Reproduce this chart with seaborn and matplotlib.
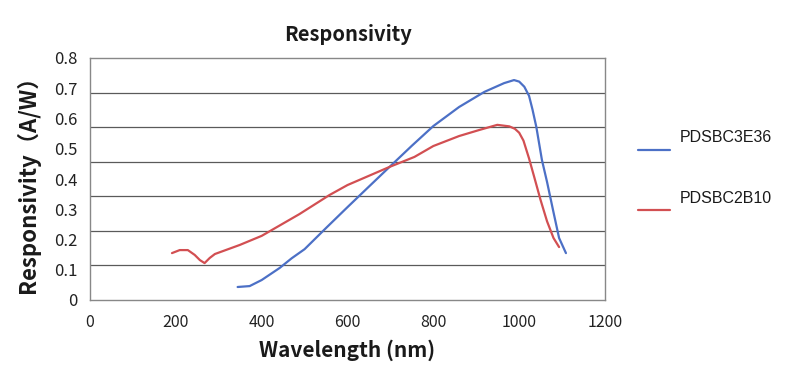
import numpy as np
import pandas as pd
import matplotlib
matplotlib.use("Agg")
import matplotlib.pyplot as plt
import seaborn as sns

# values
blue_nm = [344, 372, 400, 442, 470, 500, 550, 600, 650, 698, 750, 800, 860, 919, 965, 988,
           1000, 1012, 1023, 1031, 1040, 1053, 1065, 1080, 1093, 1109]
blue_val = [0.043, 0.046, 0.066, 0.106, 0.138, 0.168, 0.238, 0.307, 0.375, 0.44, 0.51, 0.575,
            0.638, 0.688, 0.717, 0.727, 0.722, 0.705, 0.675, 0.63, 0.572, 0.463, 0.39, 0.29,
            0.205, 0.155]

red_nm = [191, 209, 228, 244, 256, 267, 279, 291, 349, 400, 488, 558, 600, 698, 756, 800,
          860, 907, 949, 977, 990, 1000, 1010, 1023, 1035, 1050, 1065, 1080, 1093]
red_val = [0.155, 0.165, 0.165, 0.149, 0.132, 0.122, 0.139, 0.152, 0.182, 0.212, 0.284, 0.347,
           0.38, 0.44, 0.473, 0.509, 0.542, 0.562, 0.579, 0.574, 0.566, 0.553, 0.527, 0.468,
           0.407, 0.33, 0.26, 0.205, 0.175]

series_names = ["PDSBC3E36", "PDSBC2B10"]
x_ticks = [0, 200, 400, 600, 800, 1000, 1200]
y_ticks = [0, 0.1, 0.2, 0.3, 0.4, 0.5, 0.6, 0.7, 0.8]

df = pd.concat([
    pd.DataFrame({"nm": blue_nm, "val": blue_val, "model": series_names[0]}),
    pd.DataFrame({"nm": red_nm, "val": red_val, "model": series_names[1]}),
])

sns.set_style("white")
plt.rcParams["font.family"] = ["Noto Sans CJK SC", "DejaVu Sans"]

fig = plt.figure(figsize=(8, 3.79), dpi=100)
ax = fig.add_axes([90 / 800, 1 - 300 / 379, 515 / 800, 242 / 379])

sns.lineplot(data=df, x="nm", y="val", hue="model", sort=False,
             palette=["#4c70c6", "#d24f52"], linewidth=1.6, ax=ax, legend=False)

ax.set_xlim(0, 1200)
ax.set_ylim(0, 0.8)
ax.set_xticks(x_ticks)
ax.set_xticklabels([str(t) for t in x_ticks])
ax.set_yticks(y_ticks)
ax.set_yticklabels(["0"] + [f"{t:.1f}" for t in y_ticks[1:]])
# grid lines in the original are on a different spacing than the labels
ax.set_xticks(x_ticks, minor=True)
ax.set_yticks(np.linspace(0, 0.8, 8), minor=True)
ax.grid(False)
ax.grid(True, which="minor", color="#5a5a5a", linewidth=0.9)
ax.tick_params(which="both", length=0)
ax.tick_params(axis="y", pad=9, labelsize=12, colors="#222222")
ax.tick_params(axis="x", pad=10, labelsize=11.5, colors="#222222")
for s in ax.spines.values():
    s.set_color("#888888")
    s.set_linewidth(1.0)

ax.set_xlabel("Wavelength (nm)", fontsize=15, fontweight="bold", labelpad=6, color="#1a1a1a")
ax.set_ylabel("Responsivity（A/W）", fontsize=16, fontweight="bold", labelpad=10, color="#1a1a1a")
ax.set_title("Responsivity", fontsize=14.5, fontweight="bold", pad=12, color="#1a1a1a")

# legend outside on the right
lx0, lx1 = 638 / 800, 670 / 800
for name, col, yy in zip(series_names, ["#4c70c6", "#d24f52"], [150, 210]):
    fig.add_artist(plt.Line2D([lx0, lx1], [1 - yy / 379] * 2, color=col, linewidth=1.6))
    fig.text(680 / 800, 1 - (yy - 12) / 379, name, fontsize=11.5, va="center",
             family=["Liberation Sans"], color="#1a1a1a")

fig.savefig("out.png", dpi=100)
